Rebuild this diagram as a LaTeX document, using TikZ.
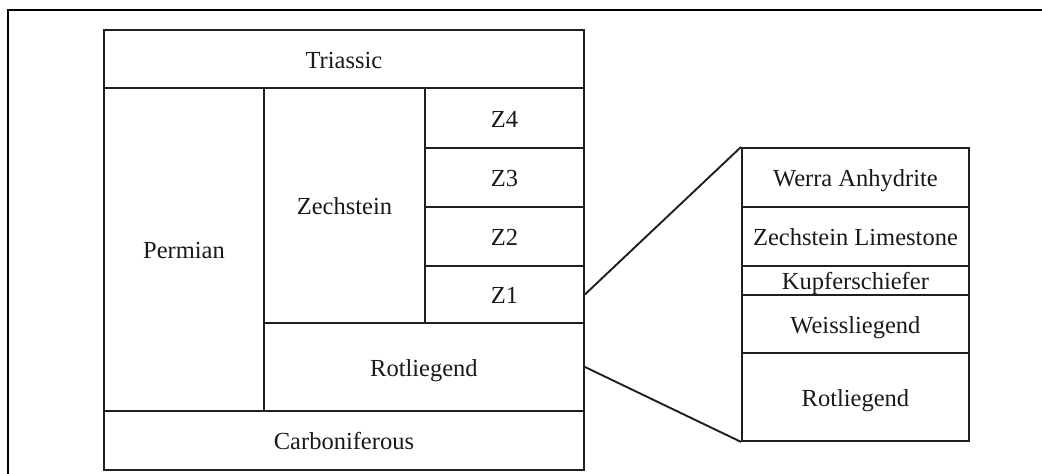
\documentclass[tikz,border=0pt]{standalone}
\usepackage{fontspec}
\setmainfont{Liberation Serif}
\begin{document}
\begin{tikzpicture}[x=1pt,y=-1pt,
  line width=1.9pt,
  cell/.style={draw=black!88, line width=1.9pt, rectangle, anchor=north west,
    inner sep=0pt, text height=19pt, text depth=0pt, text=black!90,
    font=\fontsize{24.5pt}{26pt}\selectfont}]
\useasboundingbox (0,0) rectangle (1042,474);
% outer frame (left and top edges)
\coordinate (fb) at (8,474);
\coordinate (fc) at (8,10);
\coordinate (fr) at (1042,10);
\draw[black, line width=1.6pt] (fb) -- (fc) -- (fr);

% stratigraphic column
\node[cell, minimum width=480pt, minimum height=58pt]  (tri)  at (103,29)  {Triassic};
\node[cell, minimum width=160pt, minimum height=323pt] (perm) at (103,87)  {Permian};
\node[cell, minimum width=161pt, minimum height=235pt] (zech) at (263,87)  {Zechstein};
\node[cell, minimum width=159pt, minimum height=60pt]  (z4)   at (424,87)  {Z4};
\node[cell, minimum width=159pt, minimum height=59pt]  (z3)   at (424,147) {Z3};
\node[cell, minimum width=159pt, minimum height=59pt]  (z2)   at (424,206) {Z2};
\node[cell, minimum width=159pt, minimum height=57pt]  (z1)   at (424,265) {Z1};
\node[cell, minimum width=320pt, minimum height=88pt]  (rot)  at (263,322) {Rotliegend};
\node[cell, minimum width=480pt, minimum height=59pt]  (carb) at (103,410) {Carboniferous};

% detailed section of Z1 and the Rotliegend top
\node[cell, minimum width=227pt, minimum height=59pt] (werra) at (741,147) {Werra Anhydrite};
\node[cell, minimum width=227pt, minimum height=59pt] (zl)    at (741,206) {Zechstein Limestone};
\node[cell, minimum width=227pt, minimum height=29pt] (kupf)  at (741,265) {Kupferschiefer};
\node[cell, minimum width=227pt, minimum height=58pt] (weiss) at (741,294) {Weissliegend};
\node[cell, minimum width=227pt, minimum height=88pt] (rotr)  at (741,352) {Rotliegend};

% zoom connectors
\draw[black!88] (z1.east) -- (werra.north west);
\draw[black!88] (rot.east) -- (rotr.south west);
\end{tikzpicture}
\end{document}
